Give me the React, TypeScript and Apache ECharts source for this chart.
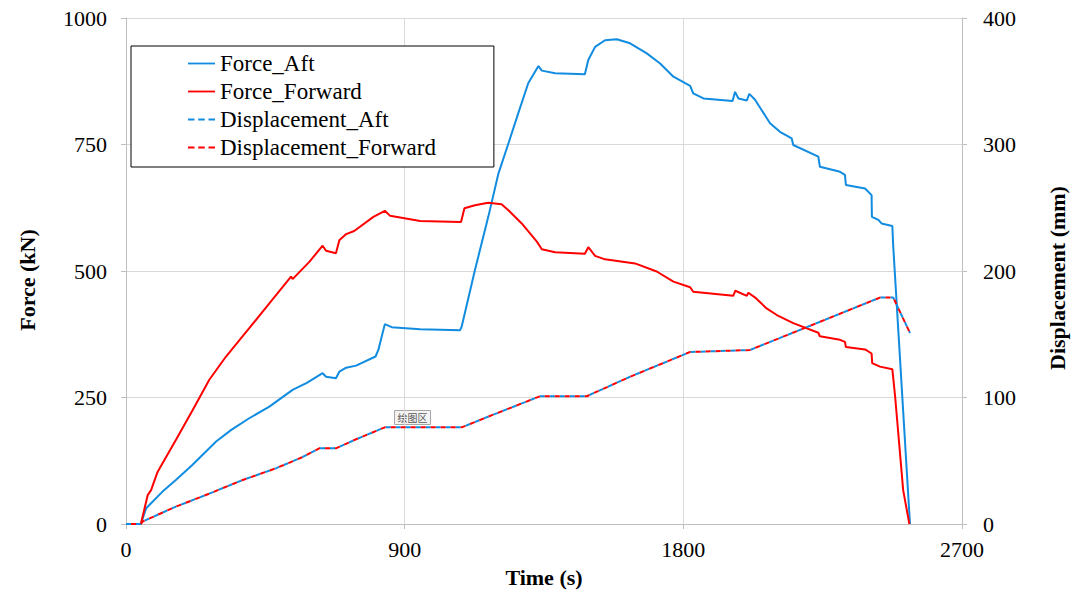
import React, { useEffect, useRef } from "react";
import * as echarts from "echarts";

const forceAftTime = [0, 48, 65, 81, 118, 161, 215, 291, 340, 398, 463, 538, 584, 635, 646, 678, 689, 711, 743, 806, 815, 836, 858, 950, 1079, 1084, 1127, 1170, 1203, 1235, 1267, 1299, 1332, 1343, 1386, 1482, 1493, 1515, 1547, 1585, 1628, 1682, 1725, 1768, 1822, 1832, 1865, 1959, 1967, 1978, 2005, 2013, 2031, 2080, 2112, 2150, 2155, 2236, 2241, 2274, 2306, 2322, 2325, 2387, 2408, 2409, 2430, 2440, 2475, 2478, 2532];
const forceAftValues = [0, 0, 31, 41, 64, 87, 117, 163, 186, 209, 232, 265, 279, 298, 291, 288, 301, 309, 313, 331, 344, 395, 389, 385, 383, 390, 502, 607, 693, 752, 812, 871, 905, 896, 891, 889, 917, 943, 956, 958, 950, 930, 910, 884, 866, 851, 841, 836, 854, 841, 837, 850, 839, 792, 775, 762, 749, 726, 706, 701, 696, 690, 670, 663, 650, 607, 601, 594, 589, 548, 0];

const forceFwdTime = [0, 48, 70, 81, 102, 118, 161, 215, 269, 323, 398, 463, 533, 538, 592, 635, 646, 678, 689, 711, 737, 799, 836, 853, 950, 1079, 1082, 1093, 1127, 1170, 1213, 1235, 1278, 1327, 1343, 1386, 1482, 1493, 1515, 1547, 1644, 1714, 1768, 1822, 1832, 1961, 1968, 2005, 2010, 2031, 2069, 2102, 2155, 2236, 2241, 2306, 2322, 2325, 2387, 2408, 2410, 2435, 2475, 2484, 2510, 2530];
const forceFwdValues = [0, 0, 57, 67, 103, 120, 166, 225, 285, 331, 387, 436, 489, 484, 518, 550, 540, 535, 561, 573, 579, 607, 619, 609, 599, 597, 597, 624, 630, 635, 632, 620, 594, 558, 543, 537, 534, 547, 530, 523, 515, 499, 479, 468, 459, 451, 461, 451, 457, 448, 426, 413, 397, 378, 371, 364, 360, 350, 345, 337, 318, 311, 306, 252, 67, 0];

const dispAftTime = [0, 48, 54, 161, 269, 377, 484, 571, 624, 678, 743, 836, 950, 1084, 1197, 1337, 1488, 1628, 1822, 2015, 2435, 2478, 2532];
const dispAftValues = [0, 0, 2, 13.7, 24, 34.8, 44, 53, 59.8, 59.8, 67, 76.4, 76.4, 76.4, 87.5, 101, 101, 116.4, 136, 137.5, 179, 179, 151];

const dispFwdTime = [0, 48, 54, 161, 269, 377, 484, 571, 624, 678, 743, 836, 950, 1084, 1197, 1337, 1488, 1628, 1822, 2015, 2435, 2478, 2532];
const dispFwdValues = [0, 0, 2, 13.7, 24, 34.8, 44, 53, 59.8, 59.8, 67, 76.4, 76.4, 76.4, 87.5, 101, 101, 116.4, 136, 137.5, 179, 179, 151];

const seriesNames = ["Force_Aft", "Force_Forward", "Displacement_Aft", "Displacement_Forward"];
const xTicks = { min: 0, max: 2700, interval: 900 };
const forceTicks = { min: 0, max: 1000, interval: 250 };
const dispTicks = { min: 0, max: 400, interval: 100 };

const BLUE = "#118CE0";
const RED = "#FF0000";
const FONT = "'Liberation Serif', 'Times New Roman', serif";
const SOLID_ICON = "path://M0,0H30V2H0Z";
const DASH_ICON = "path://M0,0H7V2H0Z M11,0H18V2H11Z M22,0H29V2H22Z";

const zip = (t: number[], v: number[]) => t.map((x, i) => [x, v[i]]);

export default function App() {
  const ref = useRef<HTMLDivElement>(null);
  useEffect(() => {
    if (!ref.current) return;
    const chart = echarts.init(ref.current, null, { renderer: "svg" });
    const axisLine = { show: true, lineStyle: { color: "#BFBFBF", width: 1 } };
    const axisTick = { show: true, length: 5, inside: false, lineStyle: { color: "#BFBFBF" } };
    const axisLabelBase = {
      color: "#000",
      fontFamily: FONT,
      fontSize: 22,
      formatter: (v: number) => String(v),
    };
    const titleStyle = {
      fontFamily: FONT,
      fontSize: 22,
      fontWeight: "bold",
      fill: "#000",
      textAlign: "center",
      textVerticalAlign: "middle",
    };
    chart.setOption({
      animation: false,
      backgroundColor: "#fff",
      textStyle: { fontFamily: FONT },
      grid: { left: 126, right: 114, top: 18, bottom: 69, containLabel: false },
      legend: {
        orient: "vertical",
        left: 131,
        top: 46,
        data: [
          { name: seriesNames[0], icon: SOLID_ICON },
          { name: seriesNames[1], icon: SOLID_ICON },
          { name: seriesNames[2], icon: DASH_ICON },
          { name: seriesNames[3], icon: DASH_ICON },
        ],
        itemWidth: 27,
        itemHeight: 2,
        itemGap: 5,
        padding: [6, 58, 8, 57],
        borderColor: "#000",
        borderWidth: 1,
        backgroundColor: "#fff",
        textStyle: { fontFamily: FONT, fontSize: 23, color: "#000", lineHeight: 23 },
      },
      xAxis: {
        type: "value",
        min: xTicks.min,
        max: xTicks.max,
        interval: xTicks.interval,
        name: "Time (s)",
        nameLocation: "middle",
        nameGap: 42,
        nameTextStyle: { fontFamily: FONT, fontSize: 22, fontWeight: "bold", color: "#000" },
        axisLine,
        axisTick,
        axisLabel: { ...axisLabelBase, margin: 14 },
        splitLine: { show: true, lineStyle: { color: "#D9D9D9", width: 1 } },
      },
      yAxis: [
        {
          type: "value",
          min: forceTicks.min,
          max: forceTicks.max,
          interval: forceTicks.interval,
          axisLine,
          axisTick,
          axisLabel: { ...axisLabelBase, margin: 19 },
          splitLine: { show: true, lineStyle: { color: "#D9D9D9", width: 1 } },
        },
        {
          type: "value",
          position: "right",
          min: dispTicks.min,
          max: dispTicks.max,
          interval: dispTicks.interval,
          axisLine,
          axisTick,
          axisLabel: { ...axisLabelBase, margin: 21 },
          splitLine: { show: false },
        },
      ],
      graphic: [
        {
          type: "text",
          x: 27,
          y: 280,
          rotation: Math.PI / 2,
          style: { text: "Force (kN)", ...titleStyle },
        },
        {
          type: "text",
          x: 1057,
          y: 278,
          rotation: Math.PI / 2,
          style: { text: "Displacement (mm)", ...titleStyle },
        },
        {
          type: "group",
          left: 394,
          top: 410,
          children: [
            {
              type: "rect",
              shape: { x: 0, y: 0, width: 36, height: 14 },
              style: { fill: "#F4F4F4", stroke: "#A6A6A6", lineWidth: 1 },
            },
            {
              type: "text",
              x: 18,
              y: 7,
              style: {
                text: "绘图区",
                fontFamily: "'Noto Sans CJK SC', sans-serif",
                fontSize: 10,
                fill: "#595959",
                textAlign: "center",
                textVerticalAlign: "middle",
              },
            },
          ],
        },
      ],
      series: [
        {
          name: seriesNames[0],
          type: "line",
          data: zip(forceAftTime, forceAftValues),
          showSymbol: false,
          symbol: "none",
          lineStyle: { color: BLUE, width: 2 },
          itemStyle: { color: BLUE },
          z: 3,
        },
        {
          name: seriesNames[1],
          type: "line",
          data: zip(forceFwdTime, forceFwdValues),
          showSymbol: false,
          symbol: "none",
          lineStyle: { color: RED, width: 2 },
          itemStyle: { color: RED },
          z: 4,
        },
        {
          name: seriesNames[2],
          type: "line",
          yAxisIndex: 1,
          data: zip(dispAftTime, dispAftValues),
          showSymbol: false,
          symbol: "none",
          lineStyle: { color: BLUE, width: 2, type: [5, 5] },
          itemStyle: { color: BLUE },
          z: 5,
        },
        {
          name: seriesNames[3],
          type: "line",
          yAxisIndex: 1,
          data: zip(dispFwdTime, dispFwdValues),
          showSymbol: false,
          symbol: "none",
          lineStyle: { color: RED, width: 2, type: [5, 5], dashOffset: 5 },
          itemStyle: { color: RED },
          z: 6,
        },
      ],
    });
    return () => chart.dispose();
  }, []);
  return (
    <div
      ref={ref}
      style={{ position: "absolute", left: 0, top: 0, width: 1076, height: 593 }}
    />
  );
}
